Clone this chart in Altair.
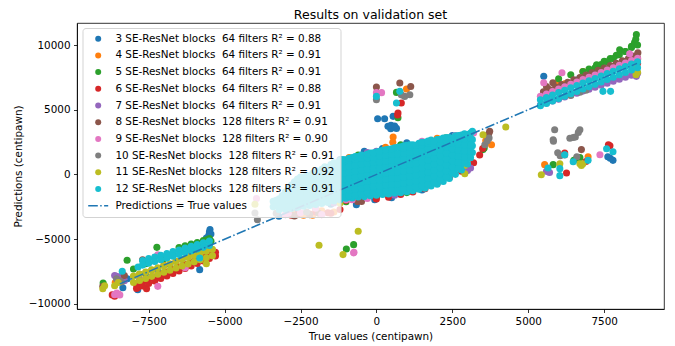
import altair as alt
import pandas as pd

labels = [
    "3 SE-ResNet blocks\u00a0\u00a064 filters R² = 0.88",
    "4 SE-ResNet blocks\u00a0\u00a064 filters R² = 0.91",
    "5 SE-ResNet blocks\u00a0\u00a064 filters R² = 0.91",
    "6 SE-ResNet blocks\u00a0\u00a064 filters R² = 0.88",
    "7 SE-ResNet blocks\u00a0\u00a064 filters R² = 0.91",
    "8 SE-ResNet blocks\u00a0\u00a0128 filters R² = 0.91",
    "9 SE-ResNet blocks\u00a0\u00a0128 filters R² = 0.90",
    "10 SE-ResNet blocks\u00a0\u00a0128 filters R² = 0.91",
    "11 SE-ResNet blocks\u00a0\u00a0128 filters R² = 0.92",
    "12 SE-ResNet blocks\u00a0\u00a0128 filters R² = 0.91",
]
line_label = "Predictions = True values"
colors = ["#1f77b4", "#ff7f0e", "#2ca02c", "#d62728", "#9467bd",
          "#8c564b", "#e377c2", "#7f7f7f", "#bcbd22", "#17becf"]

x_ticks = [-7500, -5000, -2500, 0, 2500, 5000, 7500]
y_ticks = [-10000, -7500, -5000, -2500, 0, 2500, 5000, 7500, 10000]

# (true value, prediction) pairs
blocks3 = [(-8500,-8250),(-8200,-8050),(-7860,-8900),(-7600,-7650),(-7200,-7300),(-6800,-6950),
    (-6400,-6550),(-6000,-6050),(-5700,-5600),(-5550,-5000),(-5520,-4700),(-5500,-4450),(-5480,-4250),
    (-5530,-4850),(-5820,-7350),(-8350,-8750),(-5600,-4900),(-5450,-4600),
    (-3210,-3230),(-660,-2330),(-56,-1950),(-2600,-2700),(-1500,-2300),(500,-1800),(1500,-1200),
    (-400,1800),(200,2000),(1000,2450),(2500,3000),(-1200,1150),
    (40,4300),(270,4300),(380,3720),(470,3540),(560,3650),(660,3560),(550,4490),(480,3800),(600,3750),
    (7620,1370),(7790,1090),(7700,1250),
    (5510,7580),(5600,6000),(6200,6900),(6600,7300),(7000,7700),(7600,8150),(8200,8700),(8550,9000)]
blocks4 = [(-8600,-8350),(-8400,-8200),(-7800,-7700),(-7400,-7400),(-7000,-7000),(-6600,-6700),
    (-6200,-6250),(-5800,-5900),(-5500,-5550),
    (550,2900),(540,2480),(3790,2300),(-2400,-3150),(-1800,-2800),(-900,1300),(300,2100),(2000,2800),
    (3600,2600),(-2800,-2900),(-2100,-3150),(-1400,-2900),
    (990,6600),
    (5540,760),(6970,1370),
    (5930,7070),(6800,7960),(5600,6400),(6200,7000),(7400,8000),(8000,8500),(8600,8900)]
blocks5 = [(-9000,-8380),(-8980,-8550),(-8210,-6630),(-7230,-5630),(-7000,-6500),(-6700,-6250),
    (-6500,-5650),(-6300,-5500),(-6100,-5380),(-5900,-5250),(-5700,-5100),(-5500,-4950),
    (-6400,-5950),(-6100,-5650),(-5800,-5350),(-5600,-5050),(-5450,-5150),(-7600,-6900),(-8000,-7300),
    (1670,-660),(1700,-500),(2610,1400),(3510,1920),(3550,2050),(-2000,-2600),(-1000,-2100),(0,-1700),
    (1000,-1400),(2200,-300),(2900,600),(800,2300),(-600,1500),
    (-990,-5750),(-750,-5420),
    (660,6340),(710,4380),
    (5820,760),(6700,1300),(6600,1250),(6500,1100),
    (6800,7950),(7000,8150),(7250,8480),(7500,8750),(7700,8950),(7900,9200),(8010,9640),(8200,9500),
    (8400,9900),(8500,10200),(8560,10800),(8540,10450),(8600,10000),(6400,7700),(6000,7400),
    (7200,8250),(7400,8500),(7600,8700),(7800,8950),(8000,9250),(8200,9500),(8400,9800)]
blocks6 = [(-8620,-9410),(-8500,-9250),(-8700,-9300),(-7860,-8720),(-7570,-8820),
    (-7900,-8500),(-7700,-8310),(-7500,-8120),(-7300,-7920),(-7100,-7730),(-6900,-7540),(-6700,-7350),
    (-6500,-7150),(-6300,-6960),(-6100,-6770),(-5900,-6580),(-5700,-6380),(-5500,-6190),(-5300,-6000),
    (-7900,-8800),(-7700,-8610),(-7500,-8420),(-7300,-8220),(-7100,-8030),(-6900,-7840),(-6700,-7650),
    (-6500,-7450),(-6300,-7260),(-6100,-7070),(-5900,-6880),(-5700,-6680),(-5500,-6490),(-5300,-6300),
    (-1040,1090),(-1000,-2000),(-600,-1950),(0,-1900),(400,-1750),(800,-1550),(1200,-1350),(1600,-1100),
    (2000,-700),(2400,-250),(2800,250),(3200,900),(3500,2000),(3400,1500),(-2000,-2900),(-2800,-3150),
    (-1500,-3000),(-2600,-3100),(-2200,-3050),(-1600,-2950),(-1200,-2700),
    (710,4750),(820,5520),(700,4600),
    (7640,2290),(7690,2220),(6260,115),(6200,1660),(6900,1000),
    (8600,8600),(8550,8300),(6000,6600),(7000,7400)]
blocks7 = [(-8620,-7800),(-8560,-7870),(-8450,-7900),(-8300,-8200),(-7800,-8100),
    (-300,1700),(0,1800),(3100,500),(3000,300),(-1400,-2200),(600,-1600),
    (5600,240),(5700,150),
    (5400,5370),(5600,5520),(5800,5670),(6000,5820),(6200,5980),(6400,6130),(6600,6280),(6800,6440),
    (7000,6590),(7200,6740),(7400,6890),(7600,7050),(7800,7200),(8000,7350),(8200,7510),(8400,7660),
    (8600,7810),(8560,7580),(8500,7900)]
blocks8 = [(-7700,-6580),(-9010,-8640),(-8300,-7800),(-6000,-6700),
    (-620,-2080),(-490,-2080),(-550,-1950),(3730,3330),(3700,3150),(-2200,-3100),(-2700,-3200),
    (-1900,-3000),
    (0,6760),(770,7070),(1130,6800),
    (6750,1920),
    (5500,6390),(5700,6570),(5810,7090),(5900,6760),(6100,6940),(6300,7120),(6500,7310),(6700,7490),
    (6900,7680),(7100,7860),(7300,8040),(7500,8230),(7700,8410),(7900,8590),(8100,8780),(8300,8960),
    (8500,9150),(8610,9400),(8600,9000),(5600,6800)]
blocks9 = [(-7200,-6200),(-7200,-8640),(-8620,-9280),(-8550,-9150),(-8450,-9300),(-6300,-7200),
    (-1000,-1950),(-800,-1950),(-300,-1850),(1500,2560),(1760,2560),(-3000,-3100),(-2000,-2600),
    (2600,3000),(3200,3200),(-2900,-3000),(-2500,-2950),(-1800,-3100),(-3950,-1850),
    (-750,-6060),(-740,-6010),
    (0,6320),(170,6320),
    (7360,1530),
    (5510,7090),(6110,7860),(8340,9330),
    (5400,6040),(5600,6220),(5800,6410),(6000,6590),(6200,6770),(6400,6960),(6600,7140),(6800,7330),
    (7000,7510),(7200,7690),(7400,7880),(7600,8060),(7800,8240),(8000,8430),(8200,8610),(8400,8800),
    (8600,8980)]
blocks10 = [(-8560,-8050),(-8480,-8200),(-8400,-8300),
    (-3920,-3490),(-4000,-2970),(3710,2820),(3570,2300),(3650,2600),(-3300,-3000),(-2300,-2900),
    (0,5780),(930,6030),(1100,6160),(820,6150),
    (5870,3460),(5820,2680),(5830,2560),(6370,2800),(6550,2900),(6700,3450),(6650,3250),(6480,2850),
    (5970,1680),(6200,1500),(6600,1370),(6050,1450),
    (6400,6100),(6700,6350),(6900,6500)]
blocks11 = [(-9010,-8820),(-8950,-8600),(-8500,-8350),(-8620,-8590),(-5600,-6890),
    (-8000,-7850),(-7800,-7690),(-7600,-7530),(-7400,-7370),(-7200,-7210),(-7000,-7050),(-6800,-6890),
    (-6600,-6730),(-6400,-6570),(-6200,-6410),(-6000,-6250),(-5800,-6090),(-5600,-5930),(-5400,-5770),
    (-8000,-8350),(-7800,-8190),(-7600,-8030),(-7400,-7870),(-7200,-7710),(-7000,-7550),(-6800,-7390),
    (-6600,-7230),(-6400,-7070),(-6200,-6910),(-6000,-6750),(-5800,-6590),(-5600,-6430),(-5400,-6270),
    (4260,3670),(2910,700),(2910,60),(1670,-150),(3510,3070),(2220,910),(2300,2850),(-1200,-2200),
    (-4000,-2300),
    (-1890,-5470),(-600,-4390),(-1100,-6190),
    (5430,-15),(6040,830),(6700,830),(6800,830),(6750,700),
    (8500,8300),(8600,7900),(8550,7700)]
blocks12 = [(-8370,-7480),(-7850,-7140),(-5820,-6450),
    (-7700,-6650),(-7500,-6500),(-7300,-6380),(-7100,-6240),(-6900,-6100),(-6700,-5960),(-6500,-5830),
    (-6300,-5690),(-6100,-5550),(-5900,-5420),(-5700,-5280),(-5500,-5140),
    (-7700,-7000),(-7500,-6860),(-7300,-6720),(-7100,-6590),(-6900,-6450),(-6700,-6310),(-6500,-6180),
    (-6300,-6040),(-6100,-5900),(-5900,-5760),(-5700,-5630),(-5500,-5490),
    (0,6030),(770,6420),(660,5520),
    (7580,1990),(7790,1760),(5650,500),(6200,1530),(6480,990),(6970,1090),(6040,450),(6040,-90),
    (5400,5770),(5600,5950),(5800,6140),(6000,6320),(6200,6500),(6400,6690),(6600,6870),(6800,7060),
    (7000,7240),(7200,7420),(7400,7610),(7600,7790),(7800,7970),(8000,8160),(8200,8340),(8400,8530),
    (8600,8710),
    (5400,5310),(5600,5490),(5800,5680),(6000,5860),(6200,6040),(6400,6230),(6600,6410),(6800,6600),
    (7000,6780),(7200,6960),(7400,7150),(7600,7330),(7800,7510),(8000,7700),(8200,7880),(8400,8070),
    (8600,8250),(7460,6420),(7710,6420)]
# dense central cloud of the 12-block model: true value -> predictions
blocks12_band = [
    (-3400, [-2500, -2080]),
    (-3200, [-2720, -2310, -1880]),
    (-3000, [-2690, -2240, -1810, -1360]),
    (-2800, [-2620, -2140, -1710, -1240, -820]),
    (-2600, [-2540, -2110, -1640, -1210, -740, -360]),
    (-2400, [-2460, -1990, -1560, -1090, -660, -240]),
    (-2200, [-2390, -1960, -1490, -1060, -590, -140]),
    (-2000, [-2310, -1840, -1410, -940, -510, -40, 310]),
    (-1800, [-2240, -1810, -1340, -910, -440, 10, 410]),
    (-1600, [-2160, -1690, -1260, -790, -360, 110, 540]),
    (-1400, [-2040, -1610, -1140, -710, -240, 190, 660, 910]),
    (-1200, [-1960, -1490, -1060, -590, -160, 310, 740, 1060]),
    (-1000, [-1840, -1410, -940, -510, -40, 390, 860, 1140]),
    (-800, [-1810, -1340, -910, -440, 10, 460, 890, 1310]),
    (-600, [-1740, -1310, -840, -410, 60, 490, 960, 1390]),
    (-400, [-1710, -1240, -810, -340, 90, 560, 990, 1460]),
    (-200, [-1640, -1210, -740, -310, 160, 590, 1060, 1490, 1660]),
    (0, [-1610, -1140, -710, -240, 190, 660, 1090, 1560, 1740]),
    (200, [-1540, -1110, -640, -210, 260, 690, 1160, 1590, 1860]),
    (400, [-1510, -1040, -610, -140, 290, 760, 1190, 1660, 1940]),
    (600, [-1440, -1010, -540, -110, 360, 790, 1260, 1690, 2060]),
    (800, [-1410, -940, -510, -40, 390, 860, 1290, 1760, 2140]),
    (1000, [-1340, -910, -440, 10, 460, 890, 1360, 1790, 2260]),
    (1200, [-1260, -790, -360, 110, 540, 1010, 1440, 1910, 2290]),
    (1400, [-1140, -710, -240, 190, 660, 1090, 1560, 1990, 2410]),
    (1600, [-1060, -590, -160, 310, 740, 1210, 1640, 2110, 2490]),
    (1800, [-890, -460, 10, 440, 910, 1340, 1810, 2240, 2660]),
    (2000, [-760, -290, 140, 610, 1040, 1510, 1940, 2410, 2690]),
    (2200, [-540, -110, 360, 790, 1260, 1690, 2160, 2590, 2810]),
    (2400, [-310, 160, 590, 1060, 1490, 1960, 2390, 2860]),
    (2600, [10, 440, 910, 1340, 1810, 2240, 2710, 2990]),
    (2800, [340, 810, 1240, 1710, 2140, 2610, 3040]),
    (3000, [810, 1240, 1710, 2140, 2610, 3090]),
    (3160, [1700, 2210, 2690, 3330]),
    (-3300, [-2400, -1990]),
    (-3100, [-2500, -2060, -1620]),
    (-2900, [-2430, -1980, -1520, -1050]),
    (-2700, [-2360, -1930, -1460, -1000, -560]),
    (-2500, [-2290, -1830, -1380, -920, -480, -200]),
    (-2300, [-2210, -1760, -1310, -850, -400, -60]),
    (-2100, [-2140, -1690, -1230, -780, -320, 100]),
    (-1900, [-2060, -1610, -1160, -700, -250, 190]),
    (-1700, [-1990, -1530, -1080, -620, -160, 300, 600]),
    (-1500, [-1900, -1450, -1000, -540, -80, 380, 760]),
    (-1300, [-1820, -1370, -910, -450, 0, 470, 880]),
    (-1100, [-1740, -1280, -820, -360, 100, 560, 980, 1150]),
    (-900, [-1650, -1200, -740, -280, 180, 640, 1080, 1250]),
    (-700, [-1580, -1120, -660, -200, 260, 720, 1160, 1380]),
    (-500, [-1500, -1040, -580, -120, 340, 800, 1240, 1500]),
    (-300, [-1440, -980, -520, -60, 400, 860, 1300, 1580]),
    (-100, [-1380, -920, -460, 0, 460, 920, 1340, 1680]),
    (100, [-1330, -870, -410, 50, 510, 970, 1420, 1800]),
    (300, [-1280, -820, -360, 100, 560, 1020, 1480, 1900]),
    (500, [-1220, -760, -300, 160, 620, 1080, 1540, 1980]),
    (700, [-1170, -710, -250, 210, 670, 1130, 1590, 2100]),
    (900, [-1120, -660, -200, 260, 720, 1180, 1640, 2040, 2220]),
    (1100, [-1050, -590, -130, 330, 790, 1250, 1700, 2150, 2300]),
    (1300, [-960, -500, -40, 420, 880, 1340, 1800, 2250]),
    (1500, [-880, -420, 40, 500, 960, 1420, 1880, 2300, 2480]),
    (1700, [-760, -300, 160, 620, 1080, 1540, 2000, 2400, 2580]),
    (1900, [-580, -120, 340, 800, 1260, 1720, 2180, 2550]),
    (2100, [-400, 60, 520, 980, 1440, 1900, 2360, 2720]),
    (2300, [-180, 280, 740, 1200, 1660, 2120, 2580, 2850]),
    (2500, [120, 580, 1040, 1500, 1960, 2420, 2800]),
    (2700, [480, 940, 1400, 1860, 2320, 2780, 3000]),
    (2900, [900, 1360, 1820, 2280, 2740, 3150]),
    (3100, [1300, 1800, 2300, 2800, 3200]),
]
line_x = [-8450, 8580]
line_y = [-8450, 8580]

series_points = [blocks3, blocks4, blocks5, blocks6, blocks7, blocks8, blocks9, blocks10, blocks11,
                 blocks12 + [(bx, by) for bx, ys in blocks12_band for by in ys]]

rows = []
for label, pts in zip(labels, series_points):
    for tx, py in pts:
        rows.append({"true": tx, "pred": py, "series": label, "idx": len(rows)})
df_points = pd.DataFrame(rows)
df_line = pd.DataFrame({"true": line_x, "pred": line_y})

domain = labels + [line_label]
line_symbol = ("M-3.33,-0.25H-0.13V0.25H-3.33Z M0.67,-0.25H1.17V0.25H0.67Z "
               "M1.97,-0.25H3.33V0.25H1.97Z")
shape_range = ["circle"] * 10 + [line_symbol]
color_range = colors + ["#1f77b4"]

legend = alt.Legend(
    title=None, orient="none", legendX=5.5, legendY=5,
    fillColor="rgba(255,255,255,0.8)", strokeColor="#d3d3d3", cornerRadius=3,
    padding=5.5, rowPadding=5.7, symbolSize=36, symbolOffset=5, labelOffset=12,
    labelFont="DejaVu Sans", labelFontSize=10.4, labelColor="black", labelLimit=400,
    symbolStrokeWidth=0,
)

xscale = alt.Scale(domain=[-9860, 9470], nice=False, zero=False)
yscale = alt.Scale(domain=[-10390, 11700], nice=False, zero=False)

axis_style = dict(grid=False, format="d", labelFont="DejaVu Sans", labelFontSize=10.4,
                  labelColor="black", titleFont="DejaVu Sans", titleFontSize=10.4,
                  titleFontWeight=400, titleColor="black", tickColor="black", tickSize=3.5,
                  tickWidth=0.8, domainColor="black", domainWidth=0.8, labelPadding=3.5)

points = alt.Chart(df_points).mark_point(filled=True, opacity=1, size=50).encode(
    x=alt.X("true:Q", scale=xscale,
            axis=alt.Axis(values=x_ticks, title="True values (centipawn)", titlePadding=5,
                          **axis_style)),
    y=alt.Y("pred:Q", scale=yscale,
            axis=alt.Axis(values=y_ticks, title="Predictions (centipawn)", titlePadding=5,
                          **axis_style)),
    color=alt.Color("series:N", scale=alt.Scale(domain=domain, range=color_range), legend=legend),
    shape=alt.Shape("series:N", scale=alt.Scale(domain=domain, range=shape_range), legend=legend),
    order=alt.Order("idx:Q"),
)

line = alt.Chart(df_line).mark_line(
    color="#1f77b4", strokeWidth=1.5, strokeDash=[9.6, 2.4, 1.5, 2.4]
).encode(x=alt.X("true:Q", scale=xscale), y=alt.Y("pred:Q", scale=yscale))

chart = alt.layer(points, line).properties(
    width=587, height=286,
    title=alt.TitleParams("Results on validation set", font="DejaVu Sans", fontSize=12.5,
                          fontWeight=400, color="black", anchor="middle", offset=6,
                          baseline="alphabetic", frame="group", dy=14),
    autosize=alt.AutoSizeParams(type="none"),
    padding={"left": 77, "top": 23, "right": 11, "bottom": 37},
    background="white",
).configure_view(
    stroke="black", strokeWidth=0.8
)

chart.save("out.html", embed_options={"renderer": "svg", "actions": False})
